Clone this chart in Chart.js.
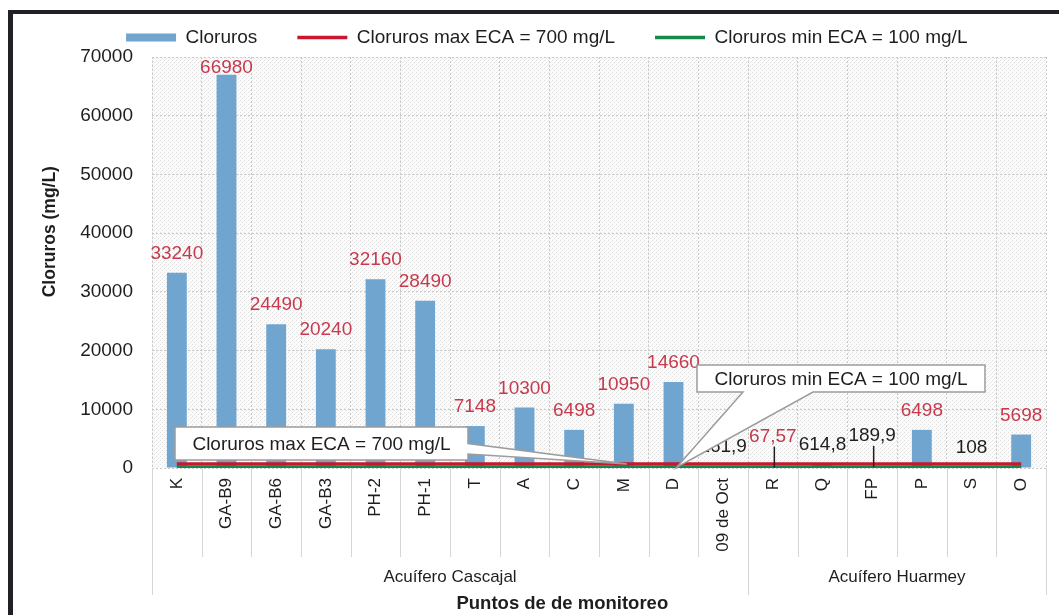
<!DOCTYPE html>
<html>
<head>
<meta charset="utf-8">
<script src="https://cdn.jsdelivr.net/npm/chart.js@4.4.1/dist/chart.umd.min.js"></script>
<style>
  html, body { margin: 0; padding: 0; background: #ffffff; }
  #wrap { position: relative; width: 1059px; height: 615px; }
  #frame { position: absolute; left: 8px; top: 10px; right: 0; bottom: 0;
           border-top: 4px solid #202027; border-left: 5px solid #202027; pointer-events: none; }
</style>
</head>
<body>
<div id="wrap">
  <canvas id="grafico" width="1059" height="615"></canvas>
  <div id="frame"></div>
</div>
<script>
// Puntos de monitoreo y concentración de cloruros (mg/L)
const puntos = ['K', 'GA-B9', 'GA-B6', 'GA-B3', 'PH-2', 'PH-1', 'T', 'A', 'C', 'M', 'D', '09 de Oct',
                'R', 'Q', 'FP', 'P', 'S', 'O'];
const cloruros = [33240, 66980, 24490, 20240, 32160, 28490, 7148, 10300, 6498, 10950, 14660, 261.9,
                  67.57, 614.8, 189.9, 6498, 108, 5698];

// Límites ECA
const ecaMax = 700;
const ecaMin = 100;
const lineaEcaMax = [700, 700, 700, 700, 700, 700, 700, 700, 700, 700, 700, 700, 700, 700, 700, 700, 700, 700];
const lineaEcaMin = [100, 100, 100, 100, 100, 100, 100, 100, 100, 100, 100, 100, 100, 100, 100, 100, 100, 100];

// Acuíferos: nombre y cantidad de puntos de cada uno
const acuiferos = ['Acuífero Cascajal', 'Acuífero Huarmey'];
const puntosPorAcuifero = [12, 6];

// Marcas del eje Y
const marcasY = [0, 10000, 20000, 30000, 40000, 50000, 60000, 70000];

const FUENTE = "'Liberation Sans', Arial, sans-serif";
const AZUL = '#70a5cf';
const ROJO = '#c8172f';
const VERDE = '#16894a';
const ROJO_ETIQ = '#c9394d';
const TEXTO = '#1e1e1e';
const REJILLA = '#c9c9c9';

const formatoValor = v => String(v).replace('.', ',');

function tramaFondo(ctx) {
  const c = document.createElement('canvas');
  c.width = 4; c.height = 4;
  const g = c.getContext('2d');
  g.fillStyle = '#fcfcfc'; g.fillRect(0, 0, 4, 4);
  g.fillStyle = '#e0e0e0'; g.fillRect(0, 0, 1, 1); g.fillRect(2, 2, 1, 1);
  g.fillStyle = '#f1f1f1'; g.fillRect(1, 3, 1, 1); g.fillRect(3, 1, 1, 1);
  return ctx.createPattern(c, 'repeat');
}

// Fondo punteado del área de trazado
const fondoArea = {
  id: 'fondoArea',
  beforeDraw(chart) {
    const { ctx, chartArea: a } = chart;
    ctx.save();
    ctx.fillStyle = tramaFondo(ctx);
    ctx.fillRect(a.left, a.top, a.right - a.left, a.bottom - a.top);
    ctx.restore();
  }
};

// Separadores bajo el eje, nombres de acuífero y títulos de ejes
const ejesExtra = {
  id: 'ejesExtra',
  afterDraw(chart) {
    const { ctx, chartArea: a, scales } = chart;
    const x = scales.x;
    const paso = x.getPixelForValue(1) - x.getPixelForValue(0);
    const borde = i => x.getPixelForValue(i) - paso / 2;
    const limites = [0];
    puntosPorAcuifero.forEach(n => limites.push(limites[limites.length - 1] + n));

    ctx.save();
    ctx.strokeStyle = '#d6d6d6';
    ctx.lineWidth = 1;
    for (let i = 0; i <= puntos.length; i++) {
      const px = Math.round(borde(i)) + 0.5;
      const largo = limites.includes(i) ? 127 : 89;
      ctx.beginPath();
      ctx.moveTo(px, a.bottom);
      ctx.lineTo(px, a.bottom + largo);
      ctx.stroke();
    }

    ctx.fillStyle = TEXTO;
    ctx.textAlign = 'center';
    ctx.textBaseline = 'middle';
    ctx.font = `17px ${FUENTE}`;
    acuiferos.forEach((nombre, g) => {
      const cx = (x.getPixelForValue(limites[g]) + x.getPixelForValue(limites[g + 1] - 1)) / 2;
      ctx.fillText(nombre, cx, a.bottom + 109);
    });

    ctx.font = `bold 18.5px ${FUENTE}`;
    ctx.fillText('Puntos de de monitoreo', a.left + 0.459 * (a.right - a.left), a.bottom + 136);

    ctx.translate(50, a.top + 0.425 * (a.bottom - a.top));
    ctx.rotate(-Math.PI / 2);
    ctx.font = `bold 17.5px ${FUENTE}`;
    ctx.fillText('Cloruros (mg/L)', 0, 0);
    ctx.restore();
  }
};

// Etiquetas de valor sobre las barras
const etiquetas = {
  id: 'etiquetas',
  afterDatasetsDraw(chart, args, opts) {
    const { ctx, chartArea: a } = chart;
    const meta = chart.getDatasetMeta(0);
    ctx.save();
    ctx.font = `19px ${FUENTE}`;
    ctx.textAlign = 'center';
    ctx.textBaseline = 'alphabetic';
    meta.data.forEach((barra, i) => {
      const v = cloruros[i];
      const extra = (opts.elevar && opts.elevar[i]) || 0;
      const base = Math.max(barra.y - 14 - extra, a.top + 16);
      if (extra) {
        ctx.strokeStyle = TEXTO;
        ctx.lineWidth = 1.5;
        ctx.beginPath();
        ctx.moveTo(barra.x + 1.5, base + 5);
        ctx.lineTo(barra.x + 1.5, barra.y);
        ctx.stroke();
      }
      ctx.fillStyle = (v > ecaMax || v < ecaMin) ? ROJO_ETIQ : TEXTO;
      ctx.fillText(formatoValor(v), barra.x, base);
    });
    ctx.restore();
  }
};

// Llamadas con cuña que señalan las líneas ECA
const llamadas = {
  id: 'llamadas',
  afterDraw(chart, args, opts) {
    const { ctx, chartArea: a } = chart;
    opts.items.forEach(it => {
      const p = chart.getDatasetMeta(it.dataset).data[it.index];
      const [bx, by, w, h] = it.caja;
      const x0 = a.left + bx, y0 = a.top + by;
      ctx.save();
      ctx.beginPath();
      ctx.moveTo(x0, y0);
      ctx.lineTo(x0 + w, y0);
      if (it.lado === 'derecha') {
        ctx.lineTo(x0 + w, y0 + h * it.base[0]);
        ctx.lineTo(p.x + 3, p.y);
        ctx.lineTo(x0 + w, y0 + h * it.base[1]);
        ctx.lineTo(x0 + w, y0 + h);
        ctx.lineTo(x0, y0 + h);
      } else {
        ctx.lineTo(x0 + w, y0 + h);
        ctx.lineTo(x0 + it.base[1], y0 + h);
        ctx.lineTo(p.x + 3, p.y);
        ctx.lineTo(x0 + it.base[0], y0 + h);
        ctx.lineTo(x0, y0 + h);
      }
      ctx.closePath();
      ctx.fillStyle = '#ffffff';
      ctx.fill();
      ctx.strokeStyle = '#9c9c9c';
      ctx.lineWidth = 1.5;
      ctx.stroke();
      ctx.fillStyle = TEXTO;
      ctx.font = `19px ${FUENTE}`;
      ctx.textAlign = 'center';
      ctx.textBaseline = 'middle';
      ctx.fillText(it.texto, x0 + w / 2, y0 + h / 2 + 1);
      ctx.restore();
    });
  }
};

const estiloLeyenda = ['rect', 'line', 'line'];

new Chart(document.getElementById('grafico'), {
  type: 'bar',
  data: {
    labels: puntos,
    datasets: [
      { type: 'bar', label: 'Cloruros', data: cloruros, backgroundColor: AZUL, borderWidth: 0,
        barPercentage: 0.4, categoryPercentage: 1, order: 3 },
      { type: 'line', label: 'Cloruros max ECA = 700 mg/L', data: lineaEcaMax, borderColor: ROJO,
        backgroundColor: ROJO, borderWidth: 3.5, pointRadius: 0, tension: 0, order: 1 },
      { type: 'line', label: 'Cloruros min ECA = 100 mg/L', data: lineaEcaMin, borderColor: VERDE,
        backgroundColor: VERDE, borderWidth: 3.5, pointRadius: 0, tension: 0, order: 2 }
    ]
  },
  options: {
    responsive: false,
    animation: false,
    layout: { padding: { top: -12, left: 47.5, right: 13, bottom: 0 } },
    scales: {
      x: {
        grid: { offset: true, color: REJILLA, drawTicks: false, lineWidth: 1 },
        border: { display: false, dash: [2, 2] },
        ticks: { autoSkip: false, minRotation: 90, maxRotation: 90, padding: 10,
                 color: TEXTO, font: { family: FUENTE, size: 17 } },
        afterFit: s => { s.height = 147; }
      },
      y: {
        min: 0, max: 70000,
        afterBuildTicks: s => { s.ticks = marcasY.map(v => ({ value: v })); },
        grid: { color: REJILLA, drawTicks: false },
        border: { display: false, dash: [2, 2] },
        ticks: { padding: 19, color: TEXTO, font: { family: FUENTE, size: 19 },
                 callback: v => String(v) },
        afterFit: s => { s.width = 152 - 47.5; }
      }
    },
    plugins: {
      tooltip: { enabled: false },
      legend: {
        position: 'top',
        labels: {
          usePointStyle: true,
          pointStyleWidth: 50,
          boxHeight: 8,
          padding: 40,
          color: TEXTO,
          font: { family: FUENTE, size: 19 },
          sort: (a, b) => a.datasetIndex - b.datasetIndex,
          generateLabels: chart => Chart.defaults.plugins.legend.labels.generateLabels(chart)
            .map(l => Object.assign(l, { pointStyle: estiloLeyenda[l.datasetIndex] }))
        }
      },
      etiquetas: { elevar: { 12: 12, 14: 12 } },
      llamadas: {
        items: [
          { texto: 'Cloruros max ECA = 700 mg/L', dataset: 1, index: 9, lado: 'derecha',
            caja: [23, 370, 293, 33], base: [0.5, 0.82] },
          { texto: 'Cloruros min ECA = 100 mg/L', dataset: 2, index: 10, lado: 'abajo',
            caja: [545, 308, 288, 27], base: [46, 116] }
        ]
      }
    }
  },
  plugins: [fondoArea, ejesExtra, etiquetas, llamadas]
});
</script>
</body>
</html>
